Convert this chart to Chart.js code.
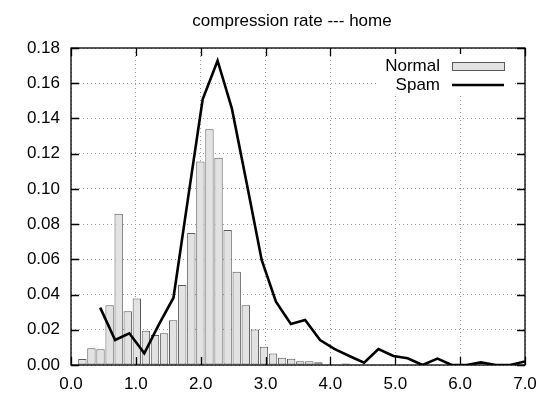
<!DOCTYPE html>
<html>
<head>
<meta charset="utf-8">
<script src="https://cdn.jsdelivr.net/npm/chart.js@4.4.1/dist/chart.umd.min.js"></script>
<style>
  html, body { margin: 0; padding: 0; background: #fff; }
  #wrap { width: 539px; height: 395px; }
</style>
</head>
<body>
<div id="wrap"><canvas id="chart" width="539" height="395"></canvas></div>
<script>
const title = "compression rate --- home";

// Normal: histogram bins (bin centre, fraction)
const normalX = [0.175, 0.315, 0.455, 0.595, 0.735, 0.875, 1.015, 1.155, 1.295, 1.435,
                 1.575, 1.715, 1.855, 1.995, 2.135, 2.275, 2.415, 2.555, 2.695, 2.835,
                 2.975, 3.115, 3.255, 3.395, 3.535, 3.675, 3.815, 3.955, 4.095, 4.235];
const normalY = [0.0034, 0.0095, 0.0089, 0.0339, 0.0859, 0.0305, 0.0377, 0.0195, 0.0170, 0.0180,
                 0.0254, 0.0454, 0.0750, 0.1155, 0.1338, 0.1177, 0.0767, 0.0529, 0.0339, 0.0202,
                 0.0104, 0.0065, 0.0041, 0.0036, 0.0022, 0.0022, 0.0016, 0.0000, 0.0000, 0.0008];

// Spam: line
const spamX = [0.45, 0.68, 0.90, 1.13, 1.35, 1.58, 1.81, 2.03, 2.26, 2.48,
               2.71, 2.94, 3.16, 3.39, 3.61, 3.84, 4.06, 4.29, 4.52, 4.74,
               4.97, 5.19, 5.42, 5.65, 5.87, 6.10, 6.32, 6.55, 6.77, 7.00];
const spamY = [0.0326, 0.0142, 0.0180, 0.0066, 0.0226, 0.0382, 0.0960, 0.1509, 0.1728, 0.1457,
               0.1030, 0.0596, 0.0360, 0.0233, 0.0256, 0.0142, 0.0091, 0.0051, 0.0013, 0.0091,
               0.0051, 0.0038, 0.0000, 0.0036, 0.0000, 0.0000, 0.0015, 0.0000, 0.0000, 0.0020];

const xTicks = [0, 1, 2, 3, 4, 5, 6, 7];
const yTicks = [0, 0.02, 0.04, 0.06, 0.08, 0.10, 0.12, 0.14, 0.16, 0.18];

const FONT = "'Liberation Sans', Arial, Helvetica, sans-serif";
Chart.defaults.font.family = FONT;
Chart.defaults.font.size = 17;
Chart.defaults.color = "#000";

// gnuplot style frame with inward ticks on all four sides, key box and title
const framePlugin = {
  id: "frame",
  afterDatasetsDraw(chart) {
    const { ctx, chartArea: a, scales } = chart;
    ctx.save();
    ctx.strokeStyle = "#000";
    ctx.lineWidth = 1.3;
    const t = 8;
    ctx.beginPath();
    xTicks.forEach((v) => {
      const px = Math.round(scales.x.getPixelForValue(v)) + 0.5;
      ctx.moveTo(px, a.bottom); ctx.lineTo(px, a.bottom - t);
      ctx.moveTo(px, a.top); ctx.lineTo(px, a.top + t);
    });
    yTicks.forEach((v) => {
      const py = Math.round(scales.y.getPixelForValue(v)) + 0.5;
      ctx.moveTo(a.left, py); ctx.lineTo(a.left + t, py);
      ctx.moveTo(a.right, py); ctx.lineTo(a.right - t, py);
    });
    ctx.stroke();

    // legend
    const ds = chart.data.datasets;
    const tx = a.right - 85;
    const sx0 = a.right - 73, sx1 = a.right - 21;
    ctx.fillStyle = "#fff";
    ctx.fillRect(a.right - 148, a.top + 6, 138, 42);
    ctx.font = "17px " + FONT;
    ctx.fillStyle = "#000";
    ctx.textAlign = "right";
    ctx.textBaseline = "middle";
    ctx.fillText(ds[0].label, tx, a.top + 18);
    ctx.fillText(ds[1].label, tx, a.top + 37);
    ctx.fillStyle = ds[0].backgroundColor;
    ctx.fillRect(sx0, a.top + 14, sx1 - sx0, 9);
    ctx.lineWidth = 1;
    ctx.strokeStyle = ds[0].borderColor;
    ctx.strokeRect(sx0 + 0.5, a.top + 14.5, sx1 - sx0, 8);
    ctx.strokeStyle = ds[1].borderColor;
    ctx.lineWidth = ds[1].borderWidth;
    ctx.beginPath();
    ctx.moveTo(sx0, a.top + 37);
    ctx.lineTo(sx1, a.top + 37);
    ctx.stroke();

    ctx.strokeStyle = "#000";
    ctx.lineWidth = 1.3;
    ctx.strokeRect(a.left, a.top, a.right - a.left, a.bottom - a.top);

    // title
    ctx.fillStyle = "#000";
    ctx.textAlign = "center";
    ctx.textBaseline = "alphabetic";
    ctx.fillText(title, 292, 26);
    ctx.restore();
  },
};

new Chart(document.getElementById("chart"), {
  type: "bar",
  data: {
    datasets: [
      {
        label: "Normal",
        data: normalX.map((x, i) => ({ x, y: normalY[i] })),
        backgroundColor: "#e2e2e2",
        borderColor: "#5a5a5a",
        borderWidth: 1,
        borderSkipped: false,
        categoryPercentage: 0.92,
        barPercentage: 1.0,
        order: 2,
      },
      {
        type: "line",
        label: "Spam",
        data: spamX.map((x, i) => ({ x, y: spamY[i] })),
        borderColor: "#000",
        borderWidth: 2.6,
        pointRadius: 0,
        tension: 0,
        fill: false,
        order: 1,
      },
    ],
  },
  options: {
    responsive: false,
    animation: false,
    layout: { padding: { left: 0, right: 14, top: 48, bottom: 0 } },
    plugins: {
      legend: { display: false },
      tooltip: { enabled: false },
      title: { display: false },
    },
    scales: {
      x: {
        type: "linear",
        min: 0,
        max: 7,
        offset: false,
        afterFit: (s) => { s.height = 30; },
        afterBuildTicks: (s) => { s.ticks = xTicks.map((v) => ({ value: v })); },
        ticks: {
          callback: (v) => v.toFixed(1),
          padding: 2,
          maxRotation: 0,
          font: { size: 17, lineHeight: 2.06 },
        },
        grid: { color: "#9a9a9a", lineWidth: 1, drawTicks: false, offset: false },
        border: { display: false, dash: [1, 3] },
      },
      y: {
        min: 0,
        max: 0.18,
        afterFit: (s) => { s.width = 71; },
        afterBuildTicks: (s) => { s.ticks = yTicks.map((v) => ({ value: v })); },
        ticks: { callback: (v) => v.toFixed(2), padding: 11 },
        grid: { color: "#9a9a9a", lineWidth: 1, drawTicks: false },
        border: { display: false, dash: [1, 3] },
      },
    },
  },
  plugins: [framePlugin],
});
</script>
</body>
</html>
